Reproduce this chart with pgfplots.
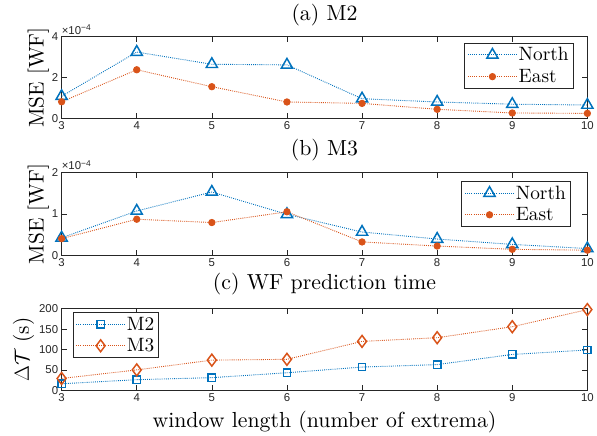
\documentclass[border=0pt]{standalone}
\usepackage{fontspec}
\setsansfont{Liberation Sans}
\newfontfamily\lmten{lmroman10-regular.otf}
\usepackage{pgfplots}
\pgfplotsset{compat=1.18}
\definecolor{mblue}{rgb}{0,0.447,0.741}
\definecolor{morange}{rgb}{0.85,0.325,0.098}
\definecolor{axc}{rgb}{0.15,0.15,0.15}
\newcommand{\bigf}{\lmten\fontsize{22}{26}\selectfont}
\newcommand{\ylf}{\lmten\fontsize{21.5}{26}\selectfont}
\newcommand{\legf}{\lmten\fontsize{19.5}{23}\selectfont}
\newcommand{\tickf}{\fontsize{11.5}{13}\selectfont\sffamily}
\pgfplotsset{
  mystyle/.style={
    scale only axis, width=529bp, height=82bp,
    xmin=3, xmax=10, xtick={3,4,...,10},
    clip=false,
    axis line style={axc, line width=0.6bp},
    every tick/.style={axc, line width=0.6bp},
    major tick length=5bp,
    tick align=inside,
    xtick pos=both, ytick pos=both,
    xticklabel pos=bottom, yticklabel pos=left,
    ticklabel style={font=\tickf, text=axc},
    /pgf/number format/assume math mode=true,
    title style={font=\bigf, at={(axis description cs:0.5,1.13)}, anchor=base},
    ylabel style={font=\ylf, anchor=base},
    xlabel style={font=\bigf},
    legend cell align=left,
    legend style={font=\legf, draw=axc, line width=0.6bp, inner xsep=3bp, inner ysep=1bp,
      row sep=0bp, nodes={inner xsep=1.5bp, inner ysep=3.5bp}},
    legend image code/.code={\draw[mark repeat=2,mark phase=2,##1] plot coordinates {(0bp,0bp) (24.5bp,0bp) (49bp,0bp)};},
  },
  dotline/.style={line width=0.9bp, dash pattern=on 0.9bp off 1.2bp},
  nstyle/.style={mblue, dotline, mark=triangle, mark size=6.5bp, mark options={solid, line width=1.5bp}},
  estyle/.style={morange, dotline, mark=*, mark size=3.2bp, mark options={solid}},
}
\begin{document}
\begin{tikzpicture}
\path (0bp,0bp) rectangle (597bp,437bp);
% panel a
\begin{axis}[mystyle, at={(62bp,318bp)}, anchor=south west,
  ymin=0, ymax=4, ytick={0,2,4},
  title={(a) M2}, ylabel={MSE [WF]},
  ylabel style={at={(axis description cs:-0.034,0.5)}},
  legend style={at={(axis description cs:0.9735,0.927)}, anchor=north east}]
\addplot[nstyle] coordinates {(3,1.08)(4,3.25)(5,2.65)(6,2.62)(7,0.96)(8,0.80)(9,0.69)(10,0.65)};
\addplot[estyle] coordinates {(3,0.81)(4,2.38)(5,1.55)(6,0.80)(7,0.73)(8,0.44)(9,0.26)(10,0.24)};
\legend{North, East}
\node[anchor=south west, inner sep=0pt, font=\tickf, text=axc] at (axis description cs:0,1.03) {×10\raisebox{0.55ex}{\fontsize{8.5}{9}\selectfont −4}};
\end{axis}
% panel b
\begin{axis}[mystyle, at={(62bp,180.3bp)}, anchor=south west, height=83bp,
  ymin=0, ymax=2, ytick={0,1,2},
  title={(b) M3}, ylabel={MSE [WF]},
  ylabel style={at={(axis description cs:-0.034,0.5)}},
  legend style={at={(axis description cs:0.968,0.90)}, anchor=north east}]
\addplot[nstyle] coordinates {(3,0.42)(4,1.07)(5,1.53)(6,0.99)(7,0.56)(8,0.39)(9,0.26)(10,0.16)};
\addplot[estyle] coordinates {(3,0.40)(4,0.87)(5,0.79)(6,1.05)(7,0.32)(8,0.22)(9,0.14)(10,0.12)};
\legend{North, East}
\node[anchor=south west, inner sep=0pt, font=\tickf, text=axc] at (axis description cs:0,1.03) {×10\raisebox{0.55ex}{\fontsize{8.5}{9}\selectfont −4}};
\end{axis}
% panel c
\begin{axis}[mystyle, at={(62bp,44.3bp)}, anchor=south west,
  ymin=0, ymax=200, ytick={0,50,100,150,200},
  title={(c) WF prediction time}, title style={at={(axis description cs:0.5,1.165)}},
  ylabel={$\Delta\mathcal{T}$ (s)},
  ylabel style={at={(axis description cs:-0.0624,0.5)}},
  xlabel={window length (number of extrema)},
  xlabel style={at={(axis description cs:0.5,-0.451)}, anchor=base},
  legend style={at={(axis description cs:0.0208,0.96)}, anchor=north west}]
\addplot[mblue, dotline, mark=square, mark size=3.7bp, mark options={solid, line width=1.5bp}] coordinates {(3,16)(4,26)(5,31)(6,43)(7,57)(8,63)(9,88)(10,99)};
\addplot[morange, dotline, mark=diamond, mark size=6bp, mark options={solid, line width=1.5bp}] coordinates {(3,29)(4,50)(5,74)(6,76)(7,120)(8,129)(9,156)(10,198)};
\legend{M2, M3}
\end{axis}
\end{tikzpicture}
\end{document}
